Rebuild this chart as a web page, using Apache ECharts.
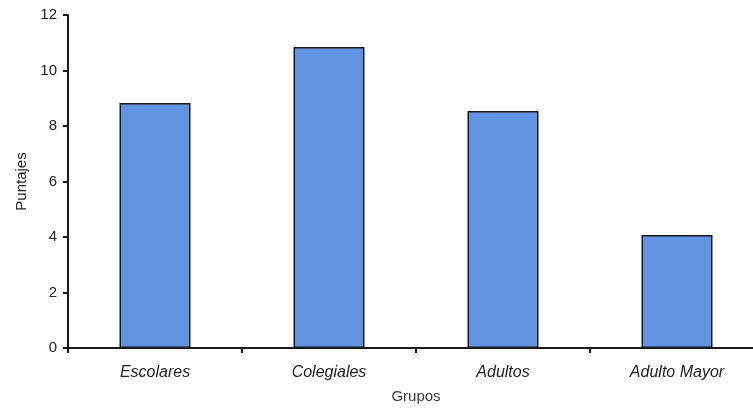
<!DOCTYPE html>
<html>
<head>
<meta charset="utf-8">
<style>
  html, body { margin: 0; padding: 0; background: #ffffff; }
  #chart { width: 753px; height: 411px; }
</style>
<script src="https://cdn.jsdelivr.net/npm/echarts@6/dist/echarts.min.js"></script>
</head>
<body>
<div id="chart"></div>
<script>
// Puntajes promedio por grupo
const categories = ['Escolares', 'Colegiales', 'Adultos', 'Adulto Mayor'];
const puntajes = [8.83, 10.85, 8.54, 4.07];
const yTicks = { min: 0, max: 12, interval: 2 };

const font = '"Liberation Sans", Arial, sans-serif';
const chart = echarts.init(document.getElementById('chart'));

chart.setOption({
  animation: false,
  // the plot runs slightly past the right edge of the canvas
  grid: { left: 68, width: 696, top: 15, height: 333, containLabel: false, outerBoundsMode: 'none' },
  xAxis: {
    type: 'category',
    data: categories,
    name: 'Grupos',
    nameLocation: 'middle',
    nameGap: 41,
    nameTextStyle: { fontFamily: font, fontSize: 15, color: '#3a3a3a' },
    axisLine: { lineStyle: { color: '#1a1a1a', width: 2 } },
    axisTick: { show: true, length: 5, lineStyle: { color: '#1a1a1a', width: 2 } },
    axisLabel: { fontFamily: font, fontSize: 16, fontStyle: 'italic', color: '#222', margin: 17 }
  },
  yAxis: {
    type: 'value',
    min: yTicks.min,
    max: yTicks.max,
    interval: yTicks.interval,
    name: 'Puntajes',
    nameLocation: 'middle',
    nameGap: 39,
    nameRotate: 90,
    nameTextStyle: { fontFamily: font, fontSize: 15, color: '#222' },
    axisLine: { show: true, lineStyle: { color: '#1a1a1a', width: 2 } },
    axisTick: { show: true, length: 5, lineStyle: { color: '#1a1a1a', width: 2 } },
    axisLabel: { fontFamily: font, fontSize: 15, color: '#222', margin: 11 },
    splitLine: { show: false }
  },
  series: [{
    type: 'bar',
    data: puntajes,
    barWidth: 71,
    itemStyle: { color: '#6193e2', borderColor: '#1a1a1a', borderWidth: 1.5 }
  }]
});
</script>
</body>
</html>
